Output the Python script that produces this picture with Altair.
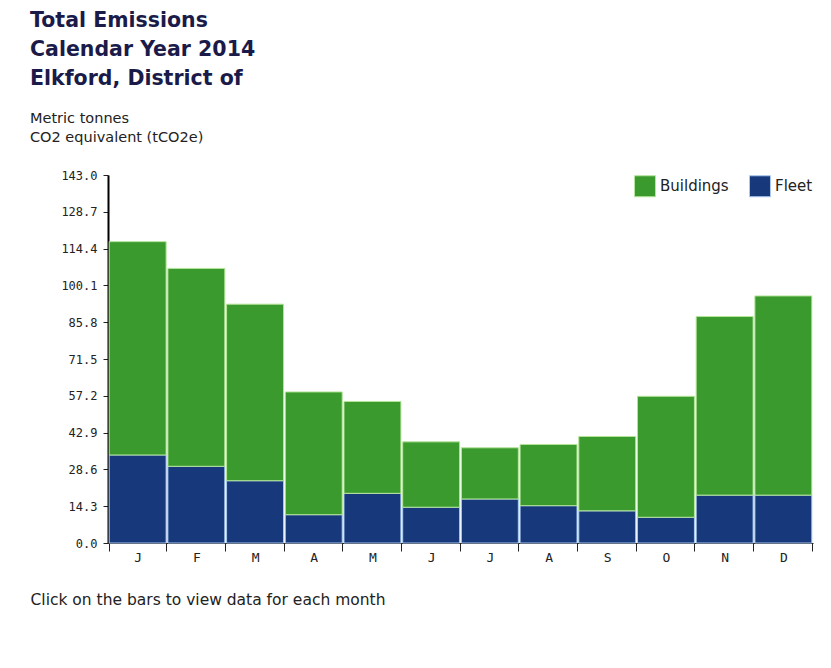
import altair as alt
import pandas as pd

months = ["Jan", "Feb", "Mar", "Apr", "May", "Jun", "Jul", "Aug", "Sep", "Oct", "Nov", "Dec"]
totals = [117.1, 106.7, 92.8, 58.7, 55.0, 39.3, 37.0, 38.3, 41.4, 57.0, 88.0, 96.0]
fleet = [34.2, 29.8, 24.2, 11.0, 19.3, 13.9, 17.1, 14.5, 12.5, 10.0, 18.6, 18.6]
buildings = [round(t - f, 1) for t, f in zip(totals, fleet)]
series = ["Buildings", "Fleet"]
colors = ["#3a9a2e", "#17397c"]
edge_colors = ["#b5e59a", "#a9c8ee"]
y_ticks = [round(14.3 * i, 1) for i in range(11)]

rows = []
for i, m in enumerate(months):
    rows.append({"month": m, "series": "Fleet", "value": fleet[i], "ord": 0})
    rows.append({"month": m, "series": "Buildings", "value": buildings[i], "ord": 1})
df = pd.DataFrame(rows)

chart = alt.Chart(df).mark_bar(strokeWidth=1).encode(
    x=alt.X("month:N", sort=months,
            scale=alt.Scale(paddingInner=0.03, paddingOuter=0.02),
            axis=alt.Axis(title="Click on the bars to view data for each month",
                          labelAngle=0, labelExpr="substring(datum.label, 0, 1)",
                          tickBand="extent", tickSize=8, tickColor="#222222",
                          domainColor="#222222", labelPadding=0, labelFontSize=13,
                          titleAnchor="start", titleAlign="left", titleX=-78, titleY=49,
                          titleBaseline="top", titleFontWeight="normal", titleFontSize=15.5,
                          titleFont="DejaVu Sans", titleColor="#222222")),
    y=alt.Y("value:Q", stack="zero",
            scale=alt.Scale(domain=[0, 143], nice=False),
            axis=alt.Axis(title=None, values=y_ticks, format=".1f", grid=False,
                          domainColor="#000000", domainWidth=2, tickColor="#222222",
                          tickSize=5, labelPadding=6)),
    color=alt.Color("series:N", scale=alt.Scale(domain=series, range=colors),
                    legend=alt.Legend(title=None, orient="top-right", direction="horizontal",
                                      symbolType="square", symbolSize=440,
                                      symbolStrokeColor="#222222", symbolStrokeWidth=1,
                                      symbolOpacity=1, labelFontSize=15, labelFont="DejaVu Sans",
                                      labelColor="#222222", columnPadding=18, offset=0,
                                      padding=0)),
    stroke=alt.Stroke("series:N", scale=alt.Scale(domain=series, range=edge_colors), legend=None),
    order=alt.Order("ord:Q", sort="ascending"),
).properties(
    width=705,
    height=368,
    padding={"left": 22, "top": 3, "right": 5, "bottom": 5},
    title=alt.TitleParams(
        text=["Total Emissions", "Calendar Year 2014", "Elkford, District of"],
        subtitle=["Metric tonnes", "CO2 equivalent (tCO2e)"],
        anchor="start", frame="group", dx=-78,
        font="DejaVu Sans", fontSize=20.5, fontWeight="bold", color="#1b1b4a", lineHeight=29,
        subtitleFont="DejaVu Sans", subtitleFontSize=14.5, subtitleColor="#222222",
        subtitleLineHeight=19, subtitlePadding=22, offset=25,
    ),
).configure_axis(
    labelFont="DejaVu Sans Mono", labelFontSize=12, labelColor="#222222",
).configure_view(stroke=None)

chart.save("out.html", embed_options={"renderer": "svg", "actions": False})
